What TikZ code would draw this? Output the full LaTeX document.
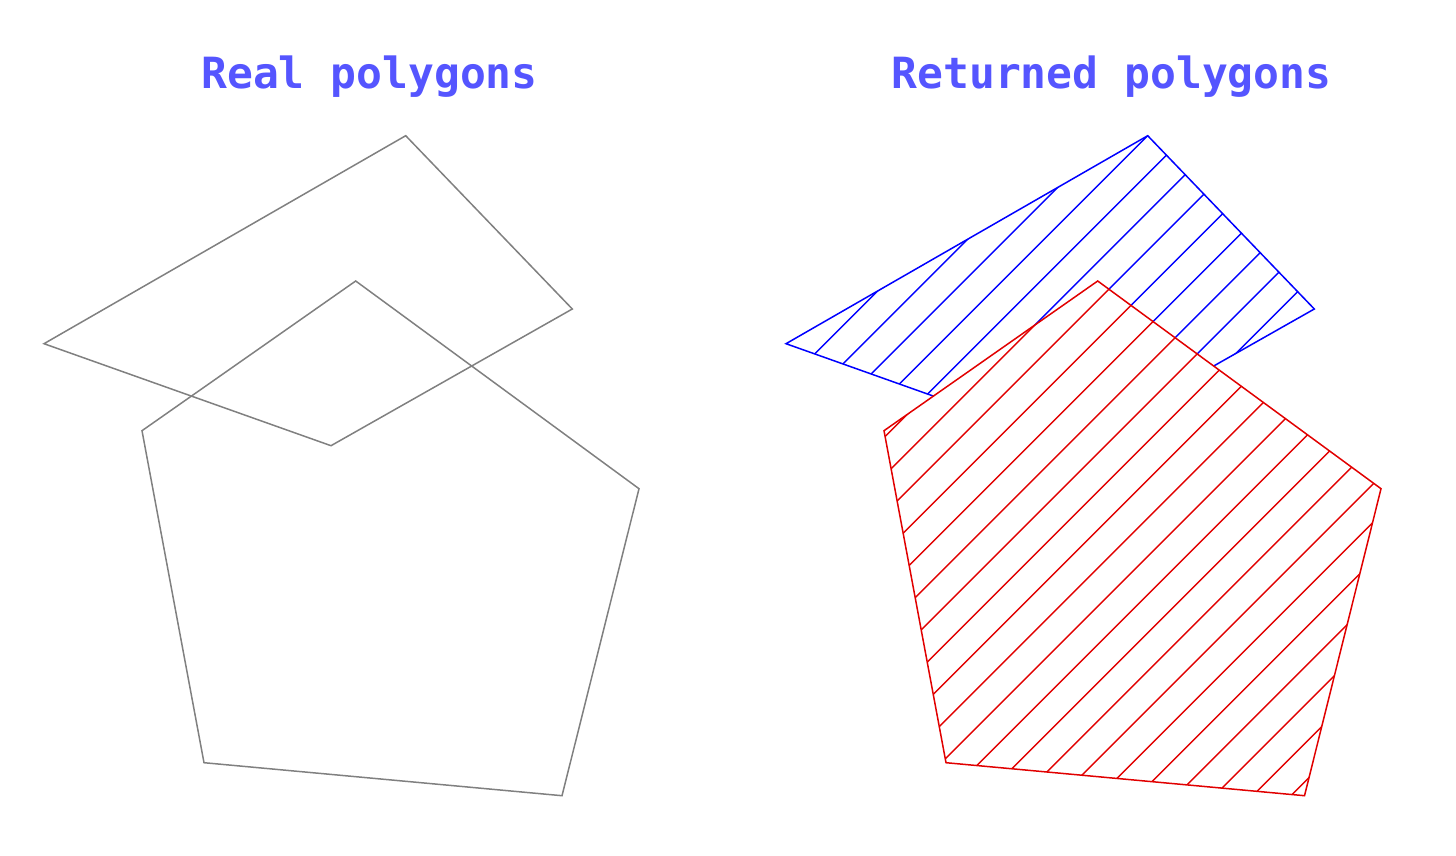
\documentclass[tikz,border=0pt]{standalone}
\usepackage{fontspec}
\newfontfamily\titlefont{DejaVu Sans Mono}
\definecolor{titleblue}{RGB}{85,85,255}
\definecolor{realgray}{RGB}{128,128,128}
\definecolor{hblue}{RGB}{0,0,255}
\definecolor{hred}{RGB}{225,0,0}
\begin{document}
\begin{tikzpicture}[x=1pt,y=-1pt,
  title/.style={font=\titlefont\bfseries\fontsize{43}{43}\selectfont, text=titleblue, inner sep=0pt, anchor=base},
  real/.style={draw=realgray, line width=1.5pt, line join=miter},
  blueline/.style={draw=hblue, line width=1.5pt, line join=miter},
  redline/.style={draw=hred, line width=1.5pt, line join=miter},
  bluehatch/.style={draw=hblue, line width=1.4pt},
  redhatch/.style={draw=hred, line width=1.4pt}]
\useasboundingbox (0,0) rectangle (1456,856);

% titles
\node[title] (t1) at (369.5,89) {Real polygons};
\node[title] (t2) at (1111.5,89) {Returned polygons};

% real polygons
\draw[real] (405.7,135.7) -- (572.3,309) -- (331,445.7) -- (44,343.7) -- cycle;
\draw[real] (355.7,281) -- (639,488.7) -- (562,795.7) -- (204,762.7) -- (142,430.7) -- cycle;

% returned: blue part (quad minus pentagon)
\begin{scope}[even odd rule]
  \clip (700,100) rectangle (1456,856)
    (1097.7,281) -- (1381,488.7) -- (1304.5,795.7) -- (946,762.7) -- (884,430.7) -- cycle;
  \begin{scope}
    \clip (1147.7,135.7) -- (1314.3,309) -- (1073,445.7) -- (786,343.7) -- cycle;
    \foreach \n in {-5,...,23}{
      \pgfmathsetmacro\cc{1283.4+38.25*\n}
      \draw[bluehatch] (\cc,0) -- (\cc-900,900);
    }
  \end{scope}
  \draw[blueline] (1147.7,135.7) -- (1314.3,309) -- (1073,445.7) -- (786,343.7) -- cycle;
\end{scope}

% returned: red pentagon
\begin{scope}
  \clip (1097.7,281) -- (1381,488.7) -- (1304.5,795.7) -- (946,762.7) -- (884,430.7) -- cycle;
  \foreach \n in {-5,...,23}{
    \pgfmathsetmacro\cc{1283.4+38.25*\n}
    \draw[redhatch] (\cc,0) -- (\cc-900,900);
  }
\end{scope}
\draw[redline] (1097.7,281) -- (1381,488.7) -- (1304.5,795.7) -- (946,762.7) -- (884,430.7) -- cycle;
\end{tikzpicture}
\end{document}
